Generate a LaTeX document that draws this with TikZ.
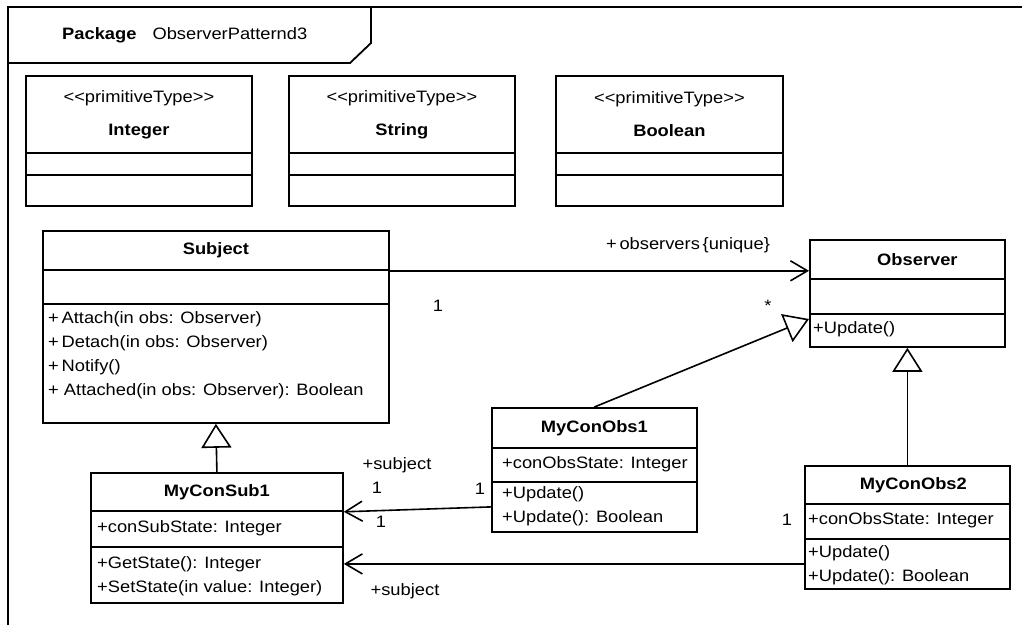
\documentclass[tikz,border=0pt]{standalone}
\usepackage{fontspec}
\setmainfont{Liberation Sans}[FakeStretch=1.11]
\usetikzlibrary{arrows.meta}
\newcommand{\uml}{\fontsize{16.5}{24}\selectfont}
\tikzstyle{cls}=[rectangle,draw=black,line width=1.8pt,inner sep=0pt,
  anchor=north west,font=\uml\bfseries]
\tikzstyle{txt}=[inner sep=0pt,anchor=west,align=left,font=\uml]
\tikzstyle{lbl}=[inner sep=0pt,font=\uml]
\tikzstyle{gen}=[line width=1.6pt,-{Triangle[open,length=24pt,width=30pt]}]
\tikzstyle{assoc}=[line width=1.6pt,-{Straight Barb[length=17pt,width=20pt]}]
\tikzstyle{frame}=[line width=1.8pt]

\begin{document}
\begin{tikzpicture}[x=1pt,y=-1pt]
            \useasboundingbox (0,0) rectangle (1022,625);
            % package frame
            \draw [style=frame] (8,625) -- (8,7) -- (1022,7);
            \draw [style=frame] (8,63) -- (350,63) -- (371,43) -- (371,7);
            \node [style=txt] (50) at (62,35) {\textbf{Package}\hspace{16pt}ObserverPatternd3};
            % primitive types
            \node [style=cls, align=center, minimum width=226pt, minimum height=77pt] (0) at (25,75) {{\mdseries<{}<primitiveType>{}>}\\[9pt]Integer};
            \node [style=cls, minimum width=226pt, minimum height=22pt] (1) at (25,152) {};
            \node [style=cls, minimum width=226pt, minimum height=31pt] (2) at (25,174) {};
            \node [style=cls, align=center, minimum width=226pt, minimum height=77pt] (3) at (288,75) {{\mdseries<{}<primitiveType>{}>}\\[9pt]String};
            \node [style=cls, minimum width=226pt, minimum height=22pt] (4) at (288,152) {};
            \node [style=cls, minimum width=226pt, minimum height=31pt] (5) at (288,174) {};
            \node [style=cls, align=center, minimum width=227pt, minimum height=77pt] (6) at (555,75) {{\mdseries<{}<primitiveType>{}>}\\[9pt]Boolean};
            \node [style=cls, minimum width=227pt, minimum height=22pt] (7) at (555,152) {};
            \node [style=cls, minimum width=227pt, minimum height=31pt] (8) at (555,174) {};
            % Subject
            \node [style=cls, minimum width=346pt, minimum height=39pt] (10) at (42,230) {Subject};
            \node [style=cls, minimum width=346pt, minimum height=34pt] (11) at (42,269) {};
            \node [style=cls, minimum width=346pt, minimum height=119pt] (12) at (42,303) {};
            \node [style=txt] (30) at (48,355) {+\,Attach(in obs: Observer)\\+\,Detach(in obs: Observer)\\+\,Notify()\\+ Attached(in obs: Observer): Boolean};
            % Observer
            \node [style=cls, minimum width=195pt, minimum height=39pt] (13) at (809,239) {\hspace{20pt}Observer};
            \node [style=cls, minimum width=195pt, minimum height=35pt] (14) at (809,278) {};
            \node [style=cls, minimum width=195pt, minimum height=33pt] (15) at (809,313) {};
            \node [style=txt] (31) at (813,329) {+Update()};
            % MyConObs1
            \node [style=cls, minimum width=205pt, minimum height=40pt] (16) at (491,407) {MyConObs1};
            \node [style=cls, minimum width=205pt, minimum height=34pt] (17) at (491,447) {};
            \node [style=cls, minimum width=205pt, minimum height=50pt] (18) at (491,481) {};
            \node [style=txt] (32) at (502,464) {+conObsState: Integer};
            \node [style=txt] (33) at (502,506) {+Update()\\+Update(): Boolean};
            % MyConObs2
            \node [style=cls, minimum width=205pt, minimum height=38pt] (19) at (804,465) {\hspace{12pt}MyConObs2};
            \node [style=cls, minimum width=205pt, minimum height=35pt] (20) at (804,503) {};
            \node [style=cls, minimum width=205pt, minimum height=50pt] (21) at (804,538) {};
            \node [style=txt] (34) at (808,520) {+conObsState: Integer};
            \node [style=txt] (35) at (808,565) {+Update()\\+Update(): Boolean};
            % MyConSub1
            \node [style=cls, minimum width=252pt, minimum height=38pt] (22) at (90,472) {MyConSub1};
            \node [style=cls, minimum width=252pt, minimum height=36pt] (23) at (90,510) {};
            \node [style=cls, minimum width=252pt, minimum height=56pt] (24) at (90,546) {};
            \node [style=txt] (36) at (97,528) {+conSubState: Integer};
            \node [style=txt] (37) at (97,576) {+GetState(): Integer\\+SetState(in value: Integer)};
            % end labels
            \node [style=lbl] (40) at (688,245) {+\,observers\,\{unique\}};
            \node [style=lbl] (41) at (438,306) {1};
            \node [style=lbl] (42) at (768,306) {*};
            \node [style=lbl] (43) at (397,465) {+subject};
            \node [style=lbl] (44) at (377,488) {1};
            \node [style=lbl] (45) at (480,489) {1};
            \node [style=lbl] (46) at (381,522) {1};
            \node [style=lbl] (47) at (405,591) {+subject};
            \node [style=lbl] (48) at (787,520) {1};
            % connectors
            \draw [style=assoc] (10.south east) to (10.south east -| 13.west);
            \draw [style=gen] (16.north) to ([yshift=-6pt]15.north west);
            \draw [style=gen] (19.north) to (15.south);
            \draw [style=gen] (22.north) to (12.south);
            \draw [style=assoc] (18.west) to (22.south east);
            \draw [style=assoc] (21.west) to (21.west -| 24.east);
\end{tikzpicture}
\end{document}
